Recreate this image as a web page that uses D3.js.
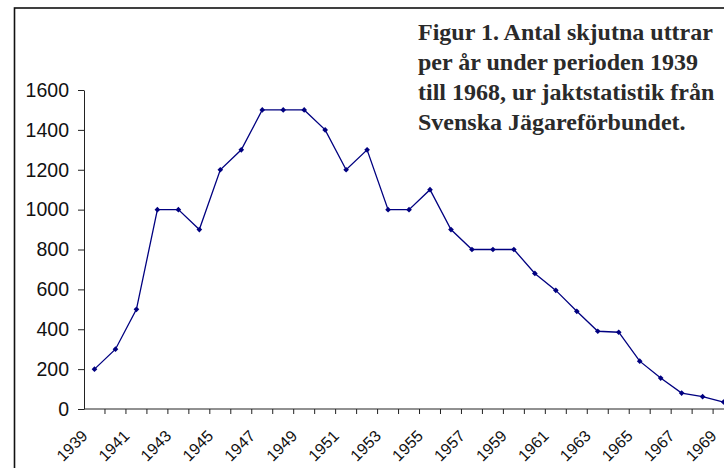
<!DOCTYPE html>
<html>
<head>
<meta charset="utf-8">
<script src="https://cdn.jsdelivr.net/npm/d3@7"></script>
<style>
  html, body { margin: 0; padding: 0; background: #fff; }
  svg { display: block; }
</style>
</head>
<body>
<figure id="chart" style="margin:0"></figure>
<script>
// Antal skjutna uttrar per år (jaktstatistik)
const years = [1939, 1940, 1941, 1942, 1943, 1944, 1945, 1946, 1947, 1948,
  1949, 1950, 1951, 1952, 1953, 1954, 1955, 1956, 1957, 1958,
  1959, 1960, 1961, 1962, 1963, 1964, 1965, 1966, 1967, 1968, 1969];
const shot = [200, 300, 500, 1000, 1000, 900, 1200, 1300, 1500, 1500,
  1500, 1400, 1200, 1300, 1000, 1000, 1100, 900, 800, 800,
  800, 680, 595, 490, 390, 385, 240, 155, 80, 62, 35];
const yTicks = [0, 200, 400, 600, 800, 1000, 1200, 1400, 1600];
const labelYears = [1939, 1941, 1943, 1945, 1947, 1949, 1951, 1953, 1955,
  1957, 1959, 1961, 1963, 1965, 1967, 1969];
const titleLines = [
  "Figur 1. Antal skjutna uttrar",
  "per år under perioden 1939",
  "till 1968, ur jaktstatistik från",
  "Svenska Jägareförbundet."
];

const width = 724;
const height = 468;
const step = 20.97;

const svg = d3.select("figure#chart")
  .append("svg")
  .attr("width", width)
  .attr("height", height)
  .attr("viewBox", [0, 0, width, height]);

// outer frame (runs off the right and bottom edge)
svg.append("rect")
  .attr("x", 14.5)
  .attr("y", 8)
  .attr("width", 900)
  .attr("height", 900)
  .attr("fill", "none")
  .attr("stroke", "#111")
  .attr("stroke-width", 1.6);

const x = d3.scaleBand()
  .domain(years)
  .range([84, 84 + years.length * step]);

const y = d3.scaleLinear()
  .domain([0, 1600])
  .range([409, 90]);

// y axis
const yAxis = svg.append("g")
  .attr("transform", "translate(84,0)")
  .call(d3.axisLeft(y)
    .tickValues(yTicks)
    .tickFormat(d3.format("d"))
    .tickSize(6)
    .tickSizeOuter(0)
    .tickPadding(9));
yAxis.select(".domain").attr("stroke", "#222");
yAxis.selectAll(".tick line").attr("stroke", "#222");
yAxis.selectAll("text")
  .attr("fill", "#111")
  .style("font", "19.5px 'Liberation Sans', Arial, sans-serif");

// x axis: line, ticks between categories, rotated labels
const xg = svg.append("g");
xg.append("line")
  .attr("x1", 84).attr("x2", width)
  .attr("y1", y(0)).attr("y2", y(0))
  .attr("stroke", "#222");
xg.selectAll("line.tick")
  .data(years)
  .join("line")
  .attr("class", "tick")
  .attr("x1", d => x(d) + x.bandwidth()).attr("x2", d => x(d) + x.bandwidth())
  .attr("y1", y(0)).attr("y2", y(0) + 5)
  .attr("stroke", "#222");

xg.selectAll("text")
  .data(labelYears)
  .join("text")
  .attr("text-anchor", "end")
  .attr("transform", d => `translate(${x(d) + x.bandwidth() / 2 - 6},437) rotate(-45)`)
  .attr("fill", "#111")
  .style("font", "16px 'Liberation Sans', Arial, sans-serif")
  .text(d => d);

// data line + markers
const line = d3.line()
  .x((d, i) => x(years[i]) + x.bandwidth() / 2)
  .y(d => y(d));

svg.append("path")
  .datum(shot)
  .attr("fill", "none")
  .attr("stroke", "#000080")
  .attr("stroke-width", 1.3)
  .attr("d", line);

svg.append("g")
  .selectAll("path")
  .data(shot)
  .join("path")
  .attr("d", d3.symbol(d3.symbolSquare, 16))
  .attr("transform", (d, i) => `translate(${x(years[i]) + x.bandwidth() / 2},${y(d)}) rotate(45)`)
  .attr("fill", "#000080");

// caption
svg.append("g")
  .selectAll("text")
  .data(titleLines)
  .join("text")
  .attr("x", 418)
  .attr("y", (d, i) => 39.5 + i * 30)
  .attr("fill", "#2a2a2a")
  .style("font", "bold 24px 'Liberation Serif', 'Times New Roman', serif")
  .text(d => d);
</script>
</body>
</html>
